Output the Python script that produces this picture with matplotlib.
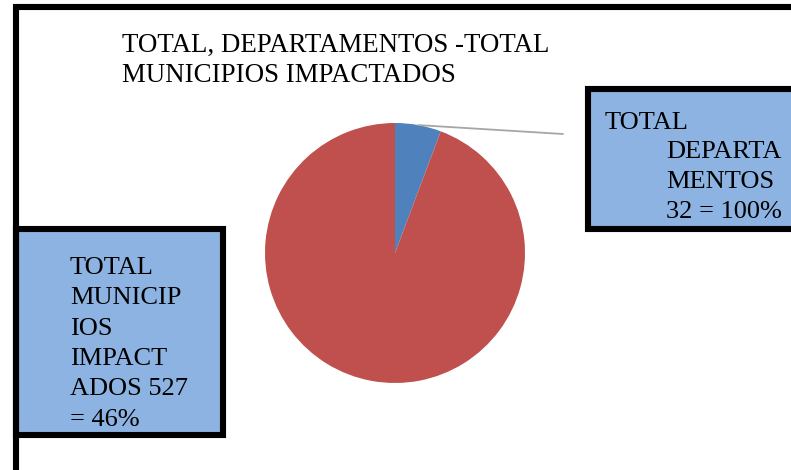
import numpy as np
import matplotlib.pyplot as plt
from matplotlib.patches import Rectangle
from matplotlib.transforms import Affine2D

categories = ['TOTAL DEPARTAMENTOS', 'TOTAL MUNICIPIOS IMPACTADOS']
values = [32, 527]
slice_colors = ['#4F81BD', '#C0504D']
title_lines = ['TOTAL, DEPARTAMENTOS -TOTAL', 'MUNICIPIOS IMPACTADOS']
dept_lines = ['TOTAL', 'DEPARTA', 'MENTOS', '32 = 100%']
muni_lines = ['TOTAL', 'MUNICIP', 'IOS', 'IMPACT', 'ADOS 527', '= 46%']

W, H = 791, 470
BOX_FILL = '#8DB3E2'

plt.rcParams['font.family'] = ['Liberation Serif', 'DejaVu Serif']

fig = plt.figure(figsize=(W / 100, H / 100), dpi=100)
# pixel coordinates measured from top-left corner
px = Affine2D().scale(1 / W, -1 / H).translate(0, 1) + fig.transFigure

# outer frame (only top and left edges visible)
fig.add_artist(plt.Line2D([16, 16, 900], [480, 7, 7], transform=px,
                          color='black', lw=4.4, solid_joinstyle='miter'))

# pie
cx, cy, r = 395, 253, 130
ax = fig.add_axes([(cx - r) / W, (H - cy - r) / H, 2 * r / W, 2 * r / H])
wedges, _ = ax.pie(values, colors=slice_colors, startangle=90,
                   counterclock=False, radius=1,
                   wedgeprops=dict(linewidth=0))
ax.set_xlim(-1, 1)
ax.set_ylim(-1, 1)
ax.set_aspect('equal')
ax.axis('off')

# leader line from the blue slice to its label box
w = wedges[0]
mid = np.deg2rad((w.theta1 + w.theta2) / 2)
ax.annotate('', xy=(np.cos(mid), np.sin(mid)), xycoords='data',
            xytext=(563, 134), textcoords=px,
            arrowprops=dict(arrowstyle='-', color='#A6A6A6', lw=1.3,
                            shrinkA=0, shrinkB=0))

# title
for i, line in enumerate(title_lines):
    fig.text(122, 52 + i * 30, line, transform=px, fontsize=19.4,
             va='baseline', ha='left', color='black')

# label boxes
fig.add_artist(Rectangle((588, 89), 300, 140, transform=px,
                         facecolor=BOX_FILL, edgecolor='black', lw=4.4,
                         joinstyle='miter'))
fig.add_artist(Rectangle((16, 229), 207, 206, transform=px,
                         facecolor=BOX_FILL, edgecolor='black', lw=4.4,
                         joinstyle='miter'))

for i, line in enumerate(dept_lines):
    x = 605 if i == 0 else 666
    fig.text(x, 129 + i * 29.5, line, transform=px, fontsize=19,
             va='baseline', ha='left', color='black')

for i, line in enumerate(muni_lines):
    fig.text(70, 274 + i * 30.3, line, transform=px, fontsize=19,
             va='baseline', ha='left', color='black')

fig.savefig('out.png', dpi=100)
